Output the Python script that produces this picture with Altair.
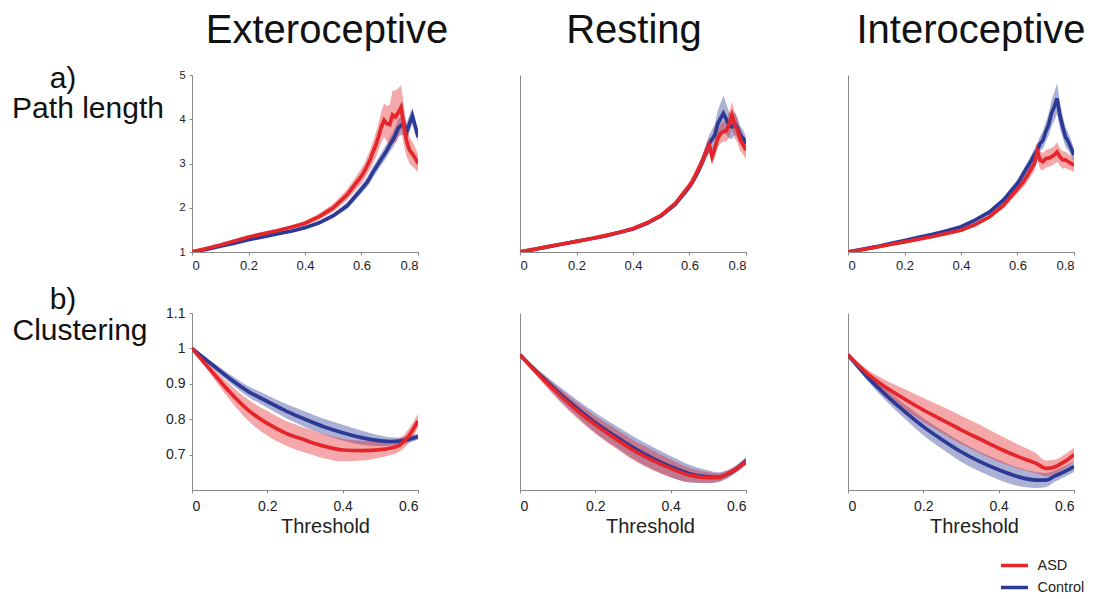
import altair as alt
import pandas as pd

RED = "#e4262b"
BLUE = "#2c3a96"
FONT = "Liberation Sans"

COLUMNS = ["Exteroceptive", "Resting", "Interoceptive"]
GROUPS = ["ASD", "Control"]

# ---------- a) Path length ----------
X_PATH = [0, .05, .1, .15, .2, .25, .3, .35, .4, .45, .5, .55, .6,
          .61, .62, .63, .64, .65, .66, .67, .68, .69, .70,
          .71, .72, .73, .74, .75, .76, .77, .78, .79, .80]

EXT_PATH_ASD = [1.0, 1.08, 1.16, 1.25, 1.34, 1.41, 1.48, 1.56, 1.65, 1.8, 2.0, 2.3, 2.72,
                2.82, 2.95, 3.08, 3.25, 3.4, 3.6, 3.82, 3.98, 3.9, 3.88,
                4.1, 4.05, 4.15, 4.27, 3.85, 3.5, 3.3, 3.22, 3.12, 3.0]
EXT_PATH_ASD_ERR = [0, .01, .015, .02, .025, .03, .035, .04, .05, .07, .09, .12, .17,
                    .18, .2, .22, .25, .28, .3, .35, .38, .4, .45,
                    .55, .6, .55, .5, .45, .35, .3, .28, .25, .2]
EXT_PATH_CTRL = [1.0, 1.06, 1.13, 1.2, 1.28, 1.34, 1.41, 1.47, 1.55, 1.66, 1.82, 2.05, 2.42,
                 2.5, 2.58, 2.68, 2.8, 2.9, 3.0, 3.1, 3.2, 3.3, 3.42,
                 3.52, 3.65, 3.8, 3.86, 3.88, 3.72, 3.9, 4.08, 3.85, 3.6]
EXT_PATH_CTRL_ERR = [0, .01, .01, .015, .02, .02, .025, .03, .035, .04, .05, .07, .1,
                     .1, .11, .12, .12, .13, .13, .14, .15, .15, .16,
                     .17, .18, .2, .22, .22, .2, .2, .18, .15, .12]

REST_PATH_ASD = [1.0, 1.06, 1.12, 1.18, 1.24, 1.3, 1.37, 1.44, 1.53, 1.66, 1.83, 2.1, 2.5,
                 2.6, 2.72, 2.85, 2.98, 3.12, 3.3, 3.42, 3.15, 3.34, 3.57,
                 3.68, 3.72, 3.74, 3.87, 4.09, 3.87, 3.75, 3.53, 3.42, 3.3]
REST_PATH_ASD_ERR = [0, .005, .01, .01, .015, .02, .02, .025, .03, .035, .045, .06, .09,
                     .1, .11, .12, .13, .14, .16, .18, .18, .2, .2,
                     .22, .22, .25, .28, .3, .3, .28, .25, .22, .2]
REST_PATH_CTRL = [1.0, 1.06, 1.12, 1.18, 1.24, 1.3, 1.36, 1.44, 1.52, 1.65, 1.82, 2.08, 2.48,
                  2.58, 2.7, 2.82, 2.96, 3.12, 3.28, 3.45, 3.55, 3.65, 3.9,
                  4.02, 4.13, 4.0, 3.87, 3.83, 3.9, 3.8, 3.64, 3.57, 3.45]
REST_PATH_CTRL_ERR = [0, .005, .01, .01, .015, .02, .02, .025, .03, .035, .045, .06, .09,
                      .1, .11, .12, .13, .15, .17, .2, .22, .25, .3,
                      .35, .4, .35, .3, .28, .25, .22, .2, .18, .15]

INT_PATH_ASD = [1.0, 1.05, 1.11, 1.17, 1.23, 1.29, 1.35, 1.42, 1.49, 1.62, 1.79, 2.05, 2.43,
                2.5, 2.58, 2.68, 2.78, 2.89, 3.0, 3.28, 3.08, 3.04, 3.11,
                3.12, 3.15, 3.19, 3.26, 3.15, 3.08, 3.08, 3.04, 3.0, 2.96]
INT_PATH_ASD_ERR = [0, .005, .01, .01, .015, .02, .02, .025, .03, .035, .045, .06, .1,
                    .11, .12, .13, .14, .15, .17, .2, .2, .2, .2,
                    .2, .2, .2, .22, .2, .2, .18, .18, .16, .15]
INT_PATH_CTRL = [1.0, 1.06, 1.12, 1.19, 1.26, 1.33, 1.4, 1.48, 1.57, 1.72, 1.9, 2.17, 2.55,
                 2.65, 2.76, 2.87, 2.97, 3.08, 3.2, 3.3, 3.45, 3.53, 3.72,
                 3.87, 4.13, 4.28, 4.47, 4.09, 3.83, 3.6, 3.49, 3.34, 3.19]
INT_PATH_CTRL_ERR = [0, .005, .01, .01, .015, .02, .02, .025, .03, .035, .045, .06, .09,
                     .1, .1, .11, .12, .13, .14, .15, .17, .2, .22,
                     .25, .3, .32, .35, .3, .25, .22, .2, .18, .15]

# ---------- b) Clustering ----------
X_CLUS = [0, .05, .1, .15, .2, .25, .3, .35, .4, .45, .5, .525, .55, .575, .6]

EXT_CLUS_ASD = [1.0, .938, .877, .825, .788, .76, .741, .724, .713, .711, .714, .718, .726, .752, .795]
EXT_CLUS_ASD_ERR = [.002, .012, .022, .03, .035, .035, .035, .034, .032, .028, .022, .02, .018, .02, .02]
EXT_CLUS_CTRL = [1.0, .957, .915, .878, .85, .823, .8, .779, .762, .748, .739, .737, .738, .743, .751]
EXT_CLUS_CTRL_ERR = [.002, .008, .012, .015, .018, .02, .022, .022, .022, .02, .015, .012, .01, .01, .008]

REST_CLUS_ASD = [.982, .925, .874, .826, .784, .748, .713, .685, .661, .642, .635, .635, .645, .66, .68]
REST_CLUS_ASD_ERR = [.002, .01, .018, .022, .025, .027, .028, .028, .025, .02, .015, .012, .01, .01, .01]
REST_CLUS_CTRL = [.982, .928, .878, .832, .79, .754, .72, .691, .666, .646, .637, .636, .644, .66, .683]
REST_CLUS_CTRL_ERR = [.002, .01, .018, .024, .028, .03, .032, .032, .03, .025, .018, .014, .012, .01, .01]

INT_CLUS_ASD = [.982, .93, .89, .857, .826, .798, .77, .744, .718, .695, .675, .661, .666, .68, .7]
INT_CLUS_ASD_ERR = [.002, .012, .02, .028, .034, .038, .04, .04, .038, .034, .028, .022, .02, .02, .02]
INT_CLUS_CTRL = [.982, .921, .869, .822, .779, .742, .708, .68, .657, .638, .628, .628, .64, .652, .666]
INT_CLUS_CTRL_ERR = [.002, .01, .016, .02, .024, .026, .028, .028, .028, .026, .022, .02, .016, .015, .015]

PATH_XTICKS = [0, 0.2, 0.4, 0.6, 0.8]
CLUS_XTICKS = [0, 0.2, 0.4, 0.6]
PATH_YTICKS = [1, 2, 3, 4, 5]
CLUS_YTICKS = [0.7, 0.8, 0.9, 1.0, 1.1]

W, H = 226, 177


def make_df(x, a_m, a_e, c_m, c_e):
    rows = []
    for g, m, e in (("Control", c_m, c_e), ("ASD", a_m, a_e)):
        for xi, mi, ei in zip(x, m, e):
            rows.append({"x": xi, "m": mi, "lo": mi - ei, "hi": mi + ei, "group": g})
    return pd.DataFrame(rows)


# legend symbol: a horizontal stroke twice as long as the nominal symbol box
LEGEND = alt.Legend(
    orient="none", legendX=814, legendY=482, title=None,
    symbolType="M-2,0H2", symbolStrokeWidth=3.5, symbolSize=182,
    symbolOpacity=1, labelFont=FONT, labelFontSize=14.5, labelColor="#222",
    labelOffset=14.5, rowPadding=6, padding=0)


def text_layer(txt, px, py, size=30):
    return alt.Chart(alt.Data(values=[{}])).mark_text(
        text=txt, font=FONT, fontSize=size, color="#111", align="center",
        baseline="alphabetic").encode(x=alt.value(px), y=alt.value(py))


def panel(df, xdom, xticks, ydom, yticks, interp, left, top_row,
          xtitle=None, xtitle_x=W / 2, texts=()):
    lab = 13 if top_row else 14
    if left:
        yaxis = alt.Axis(values=yticks, format="~g", tickSize=3, labelPadding=4,
                         labelFontSize=11 if top_row else 14)
    else:
        yaxis = alt.Axis(labels=False, ticks=False)
    if xtitle:
        xaxis = alt.Axis(values=xticks, format="~g", title=xtitle, titleFontSize=20,
                         titleFontWeight="normal", titleColor="#222", titlePadding=3,
                         titleX=xtitle_x, titleAnchor="middle", labelFontSize=lab,
                         tickSize=3, labelPadding=6)
    else:
        xaxis = alt.Axis(values=xticks, format="~g", title=None, labelFontSize=lab,
                         tickSize=3, labelPadding=4)
    x = alt.X("x:Q", scale=alt.Scale(domain=xdom, nice=False, zero=False), axis=xaxis)
    ysc = alt.Scale(domain=ydom, nice=False, zero=False)
    base = alt.Chart(df)
    # band fill: data-driven domain (sorted: ASD, Control), so it is not merged with the line legend
    area = base.mark_area(opacity=0.4, interpolate=interp, clip=True).encode(
        x=x, y=alt.Y("lo:Q", scale=ysc, axis=yaxis, title=None), y2="hi:Q",
        fill=alt.Fill("group:N", scale=alt.Scale(range=[RED, BLUE]), legend=None))
    line = base.mark_line(strokeWidth=3.7, interpolate=interp, clip=True).encode(
        x=x, y=alt.Y("m:Q", scale=ysc, axis=yaxis, title=None),
        color=alt.Color("group:N", scale=alt.Scale(domain=GROUPS, range=[RED, BLUE]),
                        legend=LEGEND))
    layers = [area, line] + [text_layer(*t) for t in texts]
    return alt.layer(*layers).properties(width=W, height=H)


path_sets = [
    (EXT_PATH_ASD, EXT_PATH_ASD_ERR, EXT_PATH_CTRL, EXT_PATH_CTRL_ERR),
    (REST_PATH_ASD, REST_PATH_ASD_ERR, REST_PATH_CTRL, REST_PATH_CTRL_ERR),
    (INT_PATH_ASD, INT_PATH_ASD_ERR, INT_PATH_CTRL, INT_PATH_CTRL_ERR),
]
clus_sets = [
    (EXT_CLUS_ASD, EXT_CLUS_ASD_ERR, EXT_CLUS_CTRL, EXT_CLUS_CTRL_ERR),
    (REST_CLUS_ASD, REST_CLUS_ASD_ERR, REST_CLUS_CTRL, REST_CLUS_CTRL_ERR),
    (INT_CLUS_ASD, INT_CLUS_ASD_ERR, INT_CLUS_CTRL, INT_CLUS_CTRL_ERR),
]
title_x = [W / 2 + 22, W / 2 + 1, W / 2 + 10]
xtitle_x = [133, 130, 126]

panels = []
for i, s in enumerate(path_sets):
    texts = [(COLUMNS[i], title_x[i], -32, 40)]
    if i == 0:
        texts += [("a)", -129, 13), ("Path length", -104, 43)]
    panels.append(panel(make_df(X_PATH, *s), [0, 0.8], PATH_XTICKS, [1, 5], PATH_YTICKS,
                        "linear", i == 0, True, texts=texts))
for i, s in enumerate(clus_sets):
    texts = [("b)", -129, -4), ("Clustering", -112, 27)] if i == 0 else []
    panels.append(panel(make_df(X_CLUS, *s), [0, 0.6], CLUS_XTICKS, [0.6, 1.1], CLUS_YTICKS,
                        "monotone", i == 0, False, xtitle="Threshold",
                        xtitle_x=xtitle_x[i], texts=texts))

chart = alt.concat(*panels, columns=3, spacing={"row": 61, "column": 102},
                   bounds="flush").properties(
    padding={"left": 4, "top": 3, "right": 0, "bottom": 0}
).configure_view(stroke=None).configure_axis(
    grid=False, domainColor="#8a8a8a", tickColor="#8a8a8a", labelColor="#222",
    labelFont=FONT, titleFont=FONT, domainWidth=1
)

chart.save("out.html", embed_options={"renderer": "svg", "actions": False})
